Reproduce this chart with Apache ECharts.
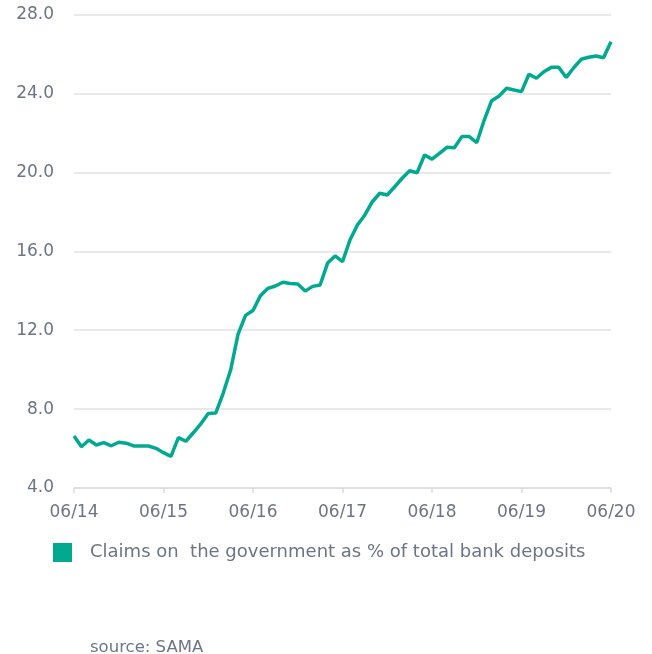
<!DOCTYPE html>
<html>
<head>
<meta charset="utf-8">
<script src="https://cdn.jsdelivr.net/npm/echarts@6/dist/echarts.min.js"></script>
<style>
  html, body { margin: 0; padding: 0; background: #fff; }
  #chart { width: 652px; height: 654px; }
</style>
</head>
<body>
<div id="chart"></div>
<script>
// monthly, 06/14 .. 06/20
const months = []
for (let y = 14; y <= 20; y++) {
  for (let m = 1; m <= 12; m++) {
    if ((y === 14 && m < 6) || (y === 20 && m > 6)) continue
    months.push((m < 10 ? '0' + m : '' + m) + '/' + y)
  }
}

const claimsShare = [
  6.64, 6.09, 6.43, 6.18, 6.30, 6.14, 6.32, 6.27, 6.13, 6.13, 6.13, 6.01,
  5.79, 5.60, 6.55, 6.37, 6.80, 7.25, 7.78, 7.80, 8.80, 9.98, 11.80, 12.75,
  13.00, 13.75, 14.12, 14.24, 14.43, 14.37, 14.34, 13.98, 14.22, 14.29, 15.40, 15.76,
  15.47, 16.57, 17.33, 17.84, 18.51, 18.94, 18.85, 19.27, 19.70, 20.08, 19.98, 20.88,
  20.67, 20.96, 21.27, 21.25, 21.81, 21.81, 21.50, 22.65, 23.63, 23.87, 24.26, 24.17,
  24.09, 24.97, 24.77, 25.10, 25.32, 25.32, 24.81, 25.30, 25.73, 25.83, 25.90, 25.81,
  26.62
]

const seriesName = 'Claims on  the government as % of total bank deposits'
const sourceText = 'source: SAMA'

const textColor = '#6e7487'
const fontFamily = 'DejaVu Sans'

const myChart = echarts.init(document.getElementById('chart'))
myChart.setOption({
  animation: false,
  title: {
    text: sourceText,
    left: 85,
    top: 634,
    textStyle: {
      color: textColor,
      fontSize: 16.5,
      fontWeight: 'normal',
      fontFamily: fontFamily
    }
  },
  legend: {
    left: 48,
    top: 538,
    icon: 'rect',
    itemWidth: 19,
    itemHeight: 19,
    itemGap: 20,
    textStyle: {
      color: textColor,
      fontSize: 18,
      fontFamily: fontFamily,
      padding: [0, 0, 0, 13]
    },
    data: [seriesName]
  },
  grid: {
    left: 74,
    right: 41,
    top: 14.5,
    bottom: 166
  },
  xAxis: {
    type: 'category',
    boundaryGap: false,
    data: months,
    axisLine: {
      lineStyle: { color: '#dcdcdc', width: 1.5 }
    },
    axisTick: {
      interval: 11,
      length: 5,
      lineStyle: { color: '#dcdcdc', width: 1.5 }
    },
    axisLabel: {
      interval: 11,
      margin: 16,
      color: textColor,
      fontSize: 17,
      fontFamily: fontFamily
    },
    splitLine: { show: false }
  },
  yAxis: {
    type: 'value',
    min: 4,
    max: 28,
    interval: 4,
    axisLine: { show: false },
    axisTick: { show: false },
    axisLabel: {
      margin: 20,
      color: textColor,
      fontSize: 17,
      fontFamily: fontFamily,
      formatter: v => v.toFixed(1)
    },
    splitLine: {
      lineStyle: { color: '#e2e2e2', width: 1.5 }
    }
  },
  series: [
    {
      name: seriesName,
      type: 'line',
      data: claimsShare,
      symbol: 'none',
      lineStyle: { color: '#00a98f', width: 3.5 },
      itemStyle: { color: '#00a98f' }
    }
  ]
})
</script>
</body>
</html>
